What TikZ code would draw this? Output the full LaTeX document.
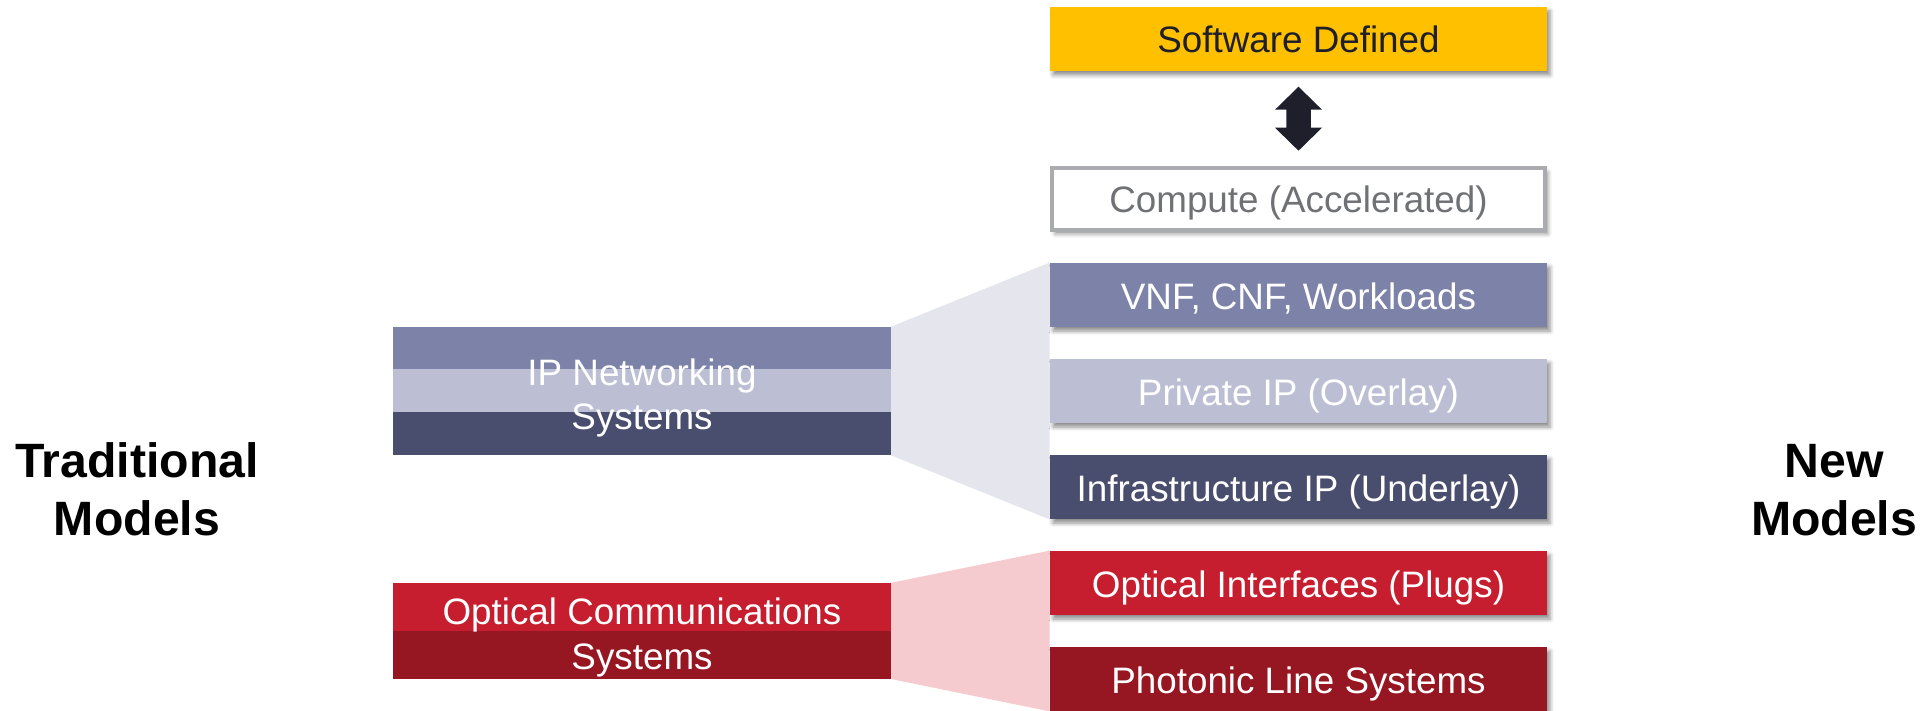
\documentclass[tikz,border=0pt]{standalone}
\usepackage{fontspec}
\setmainfont{Liberation Sans}
\usetikzlibrary{shadows.blur}
\definecolor{sdY}{HTML}{FFC000}
\definecolor{vnfC}{HTML}{7C82A8}
\definecolor{privC}{HTML}{BCBFD3}
\definecolor{infC}{HTML}{4A4E6E}
\definecolor{optC}{HTML}{C61E2E}
\definecolor{phoC}{HTML}{961621}
\definecolor{ipTr}{HTML}{E4E5ED}
\definecolor{opTr}{HTML}{F6CBD0}
\definecolor{darkT}{HTML}{1E1F2B}
\definecolor{cmpB}{HTML}{A9ABAE}
\definecolor{cmpT}{HTML}{6F7174}
\pgfdeclarelayer{background}
\pgfsetlayers{background,main}
\begin{document}
\begin{tikzpicture}[x=0.5pt,y=-0.5pt,
  rbox/.style={rectangle, minimum width=248.5pt, minimum height=32pt, inner sep=0pt,
    font=\fontsize{18.4}{21}\selectfont, text=white, text height=14pt, text depth=0pt,
    blur shadow={shadow xshift=1.5pt, shadow yshift=-2pt, shadow blur radius=2pt, shadow opacity=45}},
  band/.style={rectangle, minimum width=249pt, inner sep=0pt, outer sep=0pt},
  ltext/.style={font=\fontsize{18.4}{21}\selectfont, text=white, anchor=base, inner sep=0pt},
  side/.style={font=\bfseries\fontsize{24.1}{29}\selectfont, text=black, anchor=base, inner sep=0pt},
  darrow/.style={fill=darkT},
]
\useasboundingbox (0,0) rectangle (1927,711);

% right column
\node[rbox, fill=sdY, text=darkT] (sd) at (1298.5,39) {Software Defined};
\node[rbox, fill=white, draw=cmpB, line width=2.2pt, minimum width=246.3pt, minimum height=30.8pt, text=cmpT] (cmp) at (1298.5,199) {Compute (Accelerated)};
\node[rbox, fill=vnfC] (vnf) at (1298.5,295) {VNF, CNF, Workloads};
\node[rbox, fill=privC] (priv) at (1298.5,391) {Private IP (Overlay)};
\node[rbox, fill=infC] (infra) at (1298.5,487) {Infrastructure IP (Underlay)};
\node[rbox, fill=optC] (optif) at (1298.5,583) {Optical Interfaces (Plugs)};
\node[rbox, fill=phoC] (phot) at (1298.5,679) {Photonic Line Systems};

% double arrow between software defined and compute
\coordinate (arr) at ($(sd.south)!0.5!(cmp.north)$);
\fill[darrow] (arr) ++(0,-32) -- ++(23.5,23) -- ++(-11.25,0) -- ++(0,18) -- ++(11.25,0)
  -- ++(-23.5,23) -- ++(-23.5,-23) -- ++(11.25,0) -- ++(0,-18) -- ++(-11.25,0) -- cycle;

% left blocks
\node[band, fill=vnfC, minimum height=21.6pt] (ip1) at (642,348.3) {};
\node[band, fill=privC, minimum height=21.6pt] (ip2) at (642,391) {};
\node[band, fill=infC, minimum height=21.6pt] (ip3) at (642,433.7) {};
\node[ltext] (iptxt1) at (642,385) {IP Networking};
\node[ltext] (iptxt2) at (642,429) {Systems};

\node[band, fill=optC, minimum height=24.2pt] (op1) at (642,607) {};
\node[band, fill=phoC, minimum height=24pt] (op2) at (642,655) {};
\node[ltext] (optxt1) at (642,624) {Optical Communications};
\node[ltext] (optxt2) at (642,669) {Systems};

% side labels
\node[side] (trad1) at (137,477) {Traditional};
\node[side] (trad2) at (137,535) {Models};
\node[side] (new1) at (1834,477) {New};
\node[side] (new2) at (1834,535) {Models};

% funnels
\begin{pgfonlayer}{background}
\fill[ipTr] (ip1.north east) -- (vnf.north west) -- (infra.south west) -- (ip3.south east) -- cycle;
\fill[opTr] (op1.north east) -- (optif.north west) -- (phot.south west) -- (op2.south east) -- cycle;
\end{pgfonlayer}
\end{tikzpicture}
\end{document}
